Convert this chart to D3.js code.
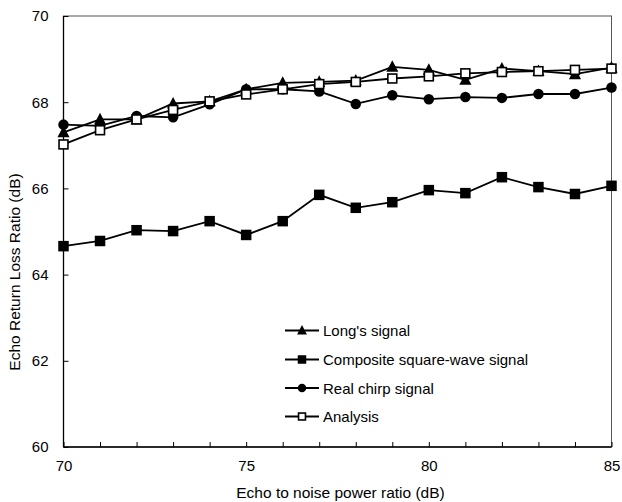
<!DOCTYPE html>
<html><head><meta charset="utf-8">
<script src="https://cdn.jsdelivr.net/npm/d3@7"></script>
<style>body{margin:0;background:#fff;} text{font-family:"Liberation Sans",Arial,sans-serif;}</style>
</head><body>
<svg id="c" width="622" height="502"></svg>
<script>
const xValues = [70,71,72,73,74,75,76,77,78,79,80,81,82,83,84,85];
const longs     = [67.30,67.60,67.60,67.97,68.02,68.30,68.45,68.47,68.50,68.82,68.75,68.52,68.78,68.72,68.65,68.80];
const composite = [64.66,64.78,65.03,65.01,65.24,64.92,65.24,65.85,65.55,65.68,65.96,65.89,66.26,66.03,65.87,66.06];
const chirp     = [67.48,67.45,67.68,67.65,67.95,68.30,68.30,68.25,67.96,68.16,68.07,68.12,68.10,68.19,68.19,68.34];
const analysis  = [67.02,67.35,67.60,67.82,68.02,68.18,68.30,68.42,68.47,68.55,68.60,68.67,68.70,68.72,68.75,68.78];
const seriesNames = ["Long's signal","Composite square-wave signal","Real chirp signal","Analysis"];
const xTickLabels = [70,75,80,85];
const yTickLabels = [60,62,64,66,68,70];

const svg = d3.select("#c");
const L=63.5, R=611.5, T=16, B=447;
const x = d3.scaleLinear().domain([70,85]).range([L,R]);
const y = d3.scaleLinear().domain([60,70]).range([B,T]);

// frame
svg.append("rect").attr("x",L).attr("y",T).attr("width",R-L).attr("height",B-T)
  .attr("fill","none").attr("stroke","#555").attr("stroke-width",1);
svg.append("line").attr("x1",L).attr("x2",L).attr("y1",T).attr("y2",B).attr("stroke","#000").attr("stroke-width",1.3);
svg.append("line").attr("x1",L).attr("x2",R).attr("y1",B).attr("y2",B).attr("stroke","#000").attr("stroke-width",1.3);

// x axis
const xa = svg.append("g").attr("transform",`translate(0,${B})`)
  .call(d3.axisBottom(x).tickValues(d3.range(70,86,1)).tickSizeInner(-5).tickSizeOuter(0)
    .tickFormat(d=>xTickLabels.includes(d)?d:""));
xa.select(".domain").remove();
xa.selectAll("text").attr("font-size",15).attr("dy","1.4em").attr("fill","#000");
xa.selectAll("line").attr("stroke","#000");

// y axis
const ya = svg.append("g").attr("transform",`translate(${L},0)`)
  .call(d3.axisLeft(y).tickValues(yTickLabels).tickSizeInner(-5).tickSizeOuter(0));
ya.select(".domain").remove();
ya.selectAll("text").attr("font-size",15).attr("x",-15).attr("fill","#000");
ya.selectAll("line").attr("stroke","#000");

svg.append("text").attr("x",(L+R)/2+3).attr("y",498).attr("text-anchor","middle").attr("font-size",15.5).text("Echo to noise power ratio (dB)");
svg.append("text").attr("transform",`translate(20,272) rotate(-90)`).attr("text-anchor","middle").attr("font-size",15.5).text("Echo Return Loss Ratio (dB)");

const line = d3.line().x((d,i)=>x(xValues[i])).y(d=>y(d));
const data = [longs,composite,chirp,analysis];
const types = ["tri","sq","circ","osq"];

function marker(g, t, cx, cy, s){
  if(t==="tri"){
    g.append("path").attr("d",`M${cx},${cy-s*0.6}L${cx+s*0.55},${cy+s*0.45}L${cx-s*0.55},${cy+s*0.45}Z`).attr("fill","#000");
  } else if(t==="sq"){
    g.append("rect").attr("x",cx-s/2).attr("y",cy-s/2).attr("width",s).attr("height",s).attr("fill","#000");
  } else if(t==="circ"){
    g.append("circle").attr("cx",cx).attr("cy",cy).attr("r",s/2).attr("fill","#000");
  } else {
    g.append("rect").attr("x",cx-s/2+0.8).attr("y",cy-s/2+0.8).attr("width",s-1.6).attr("height",s-1.6).attr("fill","#fff").attr("stroke","#000").attr("stroke-width",1.6);
  }
}

const order = [1,2,0,3];
order.forEach(k=>{
  const g = svg.append("g");
  g.append("path").datum(data[k]).attr("d",line).attr("fill","none").attr("stroke","#000").attr("stroke-width",1.8);
  data[k].forEach((v,i)=>marker(g,types[k],x(xValues[i]),y(v),k===0?11:10.5));
});

// legend
const leg = svg.append("g");
const rowsY = [330.5,359.5,388,416.5];
seriesNames.forEach((n,k)=>{
  leg.append("line").attr("x1",285).attr("x2",319).attr("y1",rowsY[k]).attr("y2",rowsY[k]).attr("stroke","#000").attr("stroke-width",1.8);
  marker(leg,types[k],302,rowsY[k],k===0?9:8.5);
  leg.append("text").attr("x",323).attr("y",rowsY[k]+5.5).attr("font-size",15).text(n);
});
</script>
</body></html>
